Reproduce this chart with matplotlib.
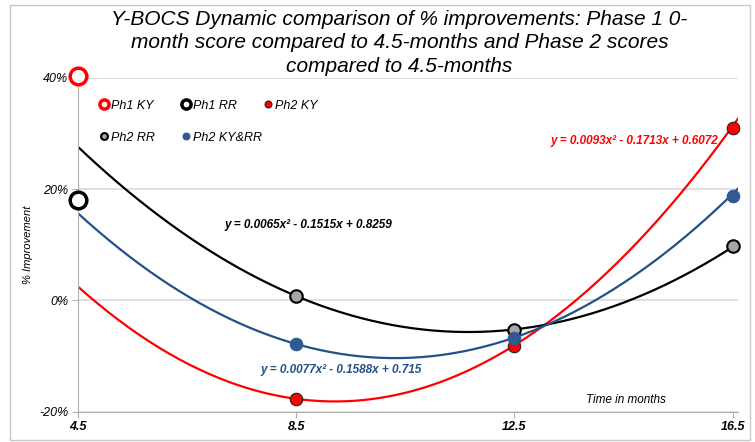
import numpy as np
import matplotlib.pyplot as plt
from matplotlib.patches import Rectangle

plt.rcParams['font.family'] = ['Liberation Sans', 'DejaVu Sans']

# data
ph1_x = [4.5]
ph1_ky = [0.403]
ph1_rr = [0.181]

ph2_x = [8.5, 12.5, 16.5]
ph2_ky = [-0.177, -0.082, 0.31]
ph2_rr = [0.007, -0.053, 0.097]
ph2_kyrr = [-0.078, -0.067, 0.188]

# trendline coefficients (as printed on the chart)
fit_ky = [0.0093, -0.1713, 0.6072]
fit_rr = [0.0065, -0.1515, 0.8259]
fit_kyrr = [0.0077, -0.1588, 0.715]

x_ticks = [4.5, 8.5, 12.5, 16.5]
y_ticks = [-0.2, 0.0, 0.2, 0.4]

fig = plt.figure(figsize=(7.55, 4.42), dpi=100)
ax = fig.add_axes([0.1033, 0.0686, 0.8742, 0.7556])

xs = np.linspace(4.5, 16.8, 200)
ax.plot(xs, np.polyval(fit_ky, xs), color='#ff0000', lw=1.6, zorder=2)
ax.plot(xs, np.polyval(fit_rr, xs), color='black', lw=1.6, zorder=2)
ax.plot(xs, np.polyval(fit_kyrr, xs), color='#24508a', lw=1.6, zorder=2)

h1, = ax.plot(ph1_x, ph1_ky, 'o', ms=12, mfc='white', mec='#ff0000', mew=2.5,
              label='Ph1 KY', clip_on=False, zorder=5)
h2, = ax.plot(ph1_x, ph1_rr, 'o', ms=12, mfc='white', mec='black', mew=2.5,
              label='Ph1 RR', clip_on=False, zorder=5)
h3, = ax.plot(ph2_x, ph2_ky, 'o', ms=9, mfc='#ff0000', mec='#222222', mew=0.8,
              label='Ph2 KY', clip_on=False, zorder=4)
h4, = ax.plot(ph2_x, ph2_rr, 'o', ms=9, mfc='#a6a6a6', mec='black', mew=1.5,
              label='Ph2 RR', clip_on=False, zorder=4)
h5, = ax.plot(ph2_x, ph2_kyrr, 'o', ms=9, mfc='#2e5b94', mec='#2e5b94', mew=0.8,
              label='Ph2 KY&RR', clip_on=False, zorder=4)

ax.set_xlim(4.5, 16.6)
ax.set_ylim(-0.2, 0.4)
ax.set_xticks(x_ticks)
ax.set_xticklabels([str(v) for v in x_ticks], fontstyle='italic',
                   fontweight='bold', fontsize=9)
ax.set_yticks(y_ticks)
ax.set_yticklabels(['%d%%' % round(v * 100) for v in y_ticks],
                   fontstyle='italic', fontsize=9)
ax.tick_params(axis='both', color='#b0b0b0', length=4, pad=3)
ax.yaxis.grid(True, color='#d9d9d9', lw=1.2)
ax.set_axisbelow(True)
for s in ['top', 'right']:
    ax.spines[s].set_visible(False)
for s in ['left', 'bottom']:
    ax.spines[s].set_color('#b0b0b0')

ax.set_ylabel('% Improvement', fontstyle='italic', fontsize=8, labelpad=4)
ax.text(14.55, -0.19, 'Time in months', fontstyle='italic', fontsize=8.5,
        ha='center', va='bottom')

ax.text(7.19, 0.136, 'y = 0.0065x² - 0.1515x + 0.8259', fontsize=8.5,
        fontstyle='italic', fontweight='bold', color='black', va='center')
ax.text(7.85, -0.125, 'y = 0.0077x² - 0.1588x + 0.715', fontsize=8.5,
        fontstyle='italic', fontweight='bold', color='#24508a', va='center')
ax.text(13.16, 0.286, 'y = 0.0093x² - 0.1713x + 0.6072', fontsize=8.5,
        fontstyle='italic', fontweight='bold', color='#ff0000', va='center')

# legend: three equal-width columns like the Excel legend
leg_cols = [([h1, h4], ['Ph1 KY', 'Ph2 RR'], 0.0312),
            ([h2, h5], ['Ph1 RR', 'Ph2 KY&RR'], 0.1555),
            ([h3], ['Ph2 KY'], 0.2803)]
for i, (hs, labs, x0) in enumerate(leg_cols):
    lg = ax.legend(hs, labs, loc='upper left', bbox_to_anchor=(x0, 0.934),
                   frameon=False, borderpad=0, borderaxespad=0,
                   handlelength=0.8, handletextpad=0.2, markerscale=0.55,
                   labelspacing=1.6, prop={'style': 'italic', 'size': 9})
    if i < len(leg_cols) - 1:
        ax.add_artist(lg)

fig.text(0.529, 0.978, 'Y-BOCS Dynamic comparison of % improvements: Phase 1 0-\n'
         'month score compared to 4.5-months and Phase 2 scores\n'
         'compared to 4.5-months', ha='center', va='top',
         fontsize=15, fontstyle='italic', linespacing=1.3)

fig.patches.append(Rectangle((10 / 755, 2 / 442), 740 / 755, 435 / 442,
                             transform=fig.transFigure, fill=False,
                             ec='#c8c8c8', lw=1))

fig.savefig('out.png', dpi=100)
